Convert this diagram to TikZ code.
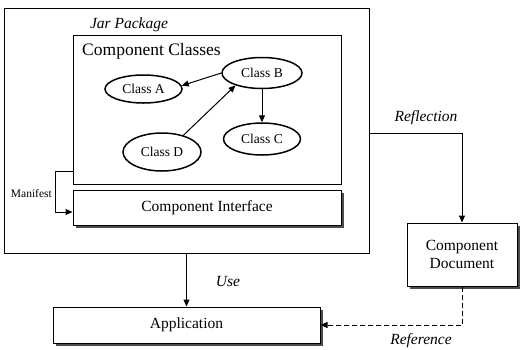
\documentclass[tikz,border=0pt]{standalone}
\usepackage{fontspec}
\setmainfont{Liberation Serif}
\usetikzlibrary{arrows.meta,shadows,shapes.geometric}

\tikzset{
  box/.style={draw, line width=1pt, fill=white, inner sep=0pt},
  shadowbox/.style={box, drop shadow={shadow xshift=3pt, shadow yshift=-3pt, fill=black!70, opacity=1}},
  cls/.style={draw, ellipse, line width=1.5pt, inner sep=0pt, font=\fontsize{13.5}{15}\selectfont},
  arr/.style={line width=1pt, -{Triangle[length=7pt,width=6pt]}},
  lbl/.style={font=\fontsize{15.5}{18}\selectfont\itshape},
  txt/.style={font=\fontsize{15.5}{18}\selectfont},
}

\begin{document}
\begin{tikzpicture}[x=1pt, y=-1pt]
  \useasboundingbox (0,0) rectangle (521,349);

  % jar package and its contents
  \node[box, minimum width=365pt, minimum height=245pt] (jar) at (186.5,130.5) {};
  \node[lbl] (jarlbl) at (129,25) {Jar Package};

  \node[box, minimum width=268pt, minimum height=149pt] (cc) at (207,109.5) {};
  \node[font=\fontsize{17.5}{20}\selectfont] (cclbl) at (151.5,51) {Component Classes};

  \node[shadowbox, txt, minimum width=268pt, minimum height=35pt] (ci) at (207,207.5) {Component Interface};

  % classes
  \node[cls, minimum width=77pt, minimum height=28pt] (A) at (143.5,89) {Class A};
  \node[cls, minimum width=80pt, minimum height=31pt] (B) at (262,73) {Class B};
  \node[cls, minimum width=77pt, minimum height=32pt] (C) at (262,139) {Class C};
  \node[cls, minimum width=78pt, minimum height=38pt] (D) at (162,152) {Class D};

  \draw[arr] (B.180) -- (A.5);
  \draw[arr] (D.38) -- (B.205);
  \draw[arr] (B.south) -- (C.north);

  % manifest bracket
  \coordinate (mf1) at (55,171);
  \coordinate (mf2) at (55,212);
  \draw[arr] (cc.west |- mf1) -- (mf1) -- (mf2) -- (ci.west |- mf2);
  \node[font=\fontsize{11.5}{13}\selectfont, anchor=east, inner sep=0pt] (mflbl) at (52,193) {Manifest};

  % outside boxes
  \node[shadowbox, txt, minimum width=267pt, minimum height=36pt] (app) at (186.5,325) {Application};
  \node[shadowbox, txt, minimum width=110pt, minimum height=63pt, align=center] (doc) at (462,254.5) {Component\\Document};

  % connectors
  \coordinate (rf) at (369,133);
  \draw[arr] (jar.east |- rf) -| (doc.north);
  \node[lbl] (rflbl) at (426,118) {Reflection};

  \draw[arr] (jar.south) -- (app.north);
  \node[lbl] (uselbl) at (228,281) {Use};

  \draw[arr, dash pattern=on 5pt off 3pt] (doc.south) |- (app.east);
  \node[lbl] (reflbl) at (421,341) {Reference};
\end{tikzpicture}
\end{document}
